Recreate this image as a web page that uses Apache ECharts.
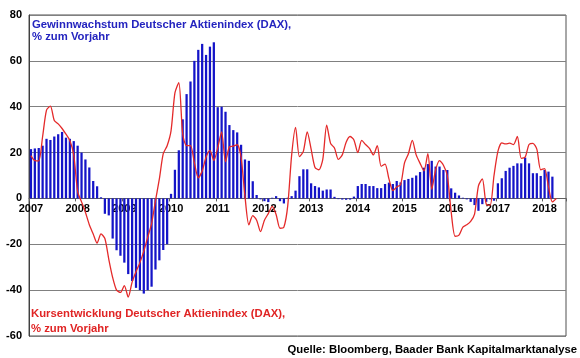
<!DOCTYPE html>
<html><head><meta charset="utf-8">
<script src="https://cdn.jsdelivr.net/npm/echarts@6/dist/echarts.min.js"></script>
<style>html,body{margin:0;padding:0;background:#fff}#c{width:580px;height:358px}</style>
</head><body><div id="c"></div>
<script>
// Monthly categories Jan 2007 .. Jun 2018
const years = [2007,2008,2009,2010,2011,2012,2013,2014,2015,2016,2017,2018];
const months = [];
years.forEach(y => { for (let m = 1; m <= 12; m++) { if (y === 2018 && m > 6) break; months.push(y + '-' + (m < 10 ? '0' + m : m)); } });

// Gewinnwachstum DAX, % zum Vorjahr (bars), Jan 2007 .. Mar 2018
const earnings = [
  21.5, 21.8, 22, 23, 26, 25.5, 27, 28, 29, 26.5, 26, 25,
  23, 20, 17, 13.5, 7.6, 5.3, 0.5, -6.7, -7.4, -17.5, -22.6, -25,
  -28, -33, -36, -39, -40, -41.5, -40, -38.5, -31, -27, -22.5, -20,
  2, 12.5, 21, 34.5, 45.5, 51, 60, 64.8, 67.4, 62.6, 66.2, 68.1,
  39.8, 40, 37.8, 32, 29.8, 28.8, 23.4, 17, 16.4, 7.5, 1.5, -0.4,
  -1.2, -1.6, 0.3, 1, -1.2, -2.2, 0.3, 1, 3.4, 9.7, 12.7, 12.7,
  6.6, 5.4, 4.8, 3.4, 3.9, 3.9, 0.7, -0.3, -0.5, -0.6, -0.5, 0.8,
  5.4, 6.3, 6.3, 5.4, 5.4, 4.5, 4.5, 6.3, 6.9, 6.3, 7.6, 7,
  8, 8.5, 9, 10, 11.5, 13.4, 15, 16.4, 13.9, 13.9, 12.4, 12.4,
  4.4, 2.5, 1.3, 0.3, -0.4, -1.5, -2.9, -5.4, -2.5, -1.5, -0.4, -1,
  6.6, 8.8, 12, 13.4, 14.2, 15.3, 15.3, 17.8, 15.3, 11, 11, 9.8,
  12.4, 11.7, 9.5
];

// Kursentwicklung DAX, % zum Vorjahr (line), Jan 2007 .. Apr 2018
const price = [
  18.7, 16.5, 16.4, 27, 38.5, 40.3, 34, 32.5, 30.5, 28, 25.3, 19,
  3, -1.5, -6, -11.5, -15.5, -19.5, -15.5, -17.5, -26.5, -34.5, -40, -41,
  -38, -43, -36.5, -32, -28, -23, -17, -11, -1, 8.5, 19.5, 23,
  29.5, 46, 50.5, 28, 23, 23, 15.5, 9, 12, 18, 21, 16.5,
  22, 29, 16, 22.5, 22.8, 23.5, 18, 1, -11.5, -7.5, -9.5, -14.5,
  -9.5, -6.6, -3.5, -7, -13, -12.5, -3, 19, 31, 18.2, 20.5, 29,
  21.5, 13.5, 12.5, 17, 32, 24, 22, 17, 19, 24.5, 27, 25.5,
  20, 25.3, 23.5, 21.8, 19, 23, 14, 15, 8.5, 3.4, 5, 6,
  15.5, 19.5, 25.3, 19, 15.3, 12, 19.5, 4, 12.5, 16.5, 14.5, 10,
  -6, -16.5, -16, -12.5, -11.5, -10, -6.8, 5.5, 8.5, -2.5, -3, 10,
  20.5, 24.2, 23.8, 24.1, 23.5, 27, 17.5, 18, 23.5, 24, 21.5, 12.5,
  13, 5, -1.5, 0
];

const yTicks = { min: -60, max: 80, interval: 20 };
const titleTop = ['Gewinnwachstum Deutscher Aktienindex (DAX),', '% zum Vorjahr'];
const titleBottom = ['Kursentwicklung Deutscher Aktienindex (DAX),', '% zum Vorjahr'];
const source = 'Quelle: Bloomberg, Baader Bank Kapitalmarktanalyse';

const FONT = '"Liberation Sans", Arial, sans-serif';
const GRID = { left: 29, right: 14, top: 15, bottom: 22 };
const plotH = 358 - GRID.top - GRID.bottom;
// move the category axis (line + labels) up to the zero line
const zeroOffset = -plotH * (0 - yTicks.min) / (yTicks.max - yTicks.min);

const chart = echarts.init(document.getElementById('c'), null, { renderer: 'canvas' });
chart.setOption({
  animation: false,
  backgroundColor: '#ffffff',
  grid: Object.assign({ show: true, borderColor: '#505050', borderWidth: 1 }, GRID),
  xAxis: {
    type: 'category',
    data: months,
    boundaryGap: true,
    offset: zeroOffset,
    axisLine: { show: true, onZero: false, lineStyle: { color: '#606060', width: 1 } },
    axisTick: { show: true, length: 3, interval: (i) => i % 12 === 0, lineStyle: { color: '#606060' } },
    axisLabel: {
      interval: (i) => i % 12 === 0,
      formatter: (v) => v.slice(0, 4),
      fontFamily: FONT, fontWeight: 'bold', fontSize: 11, color: '#000', margin: 5
    },
    splitLine: { show: false }
  },
  yAxis: {
    type: 'value',
    min: yTicks.min, max: yTicks.max, interval: yTicks.interval,
    axisLine: { show: true, lineStyle: { color: '#404040' } },
    axisTick: { show: false },
    axisLabel: { fontFamily: FONT, fontWeight: 'bold', fontSize: 11, color: '#000', margin: 7 },
    splitLine: { show: true, lineStyle: { color: '#808080', width: 1 } }
  },
  series: [
    {
      type: 'bar', data: earnings, barWidth: '58%',
      itemStyle: { color: '#1414c8' }, z: 2
    },
    {
      type: 'line', data: price, showSymbol: false, symbol: 'none', smooth: 0.25,
      lineStyle: { color: '#e42a2a', width: 1.3 }, z: 3
    }
  ],
  graphic: [
    { type: 'text', left: 32, top: 19, z: 10, style: { text: titleTop.join('\n'), fill: '#2424bf', font: 'bold 11.3px ' + FONT, lineHeight: 12 } },
    { type: 'text', left: 31, top: 306, z: 10, style: { text: titleBottom.join('\n'), fill: '#e02424', font: 'bold 11.3px ' + FONT, lineHeight: 15 } },
    { type: 'text', right: 3, top: 344, z: 10, style: { text: source, fill: '#000', font: 'bold 11.3px ' + FONT } }
  ]
});
</script></body></html>
